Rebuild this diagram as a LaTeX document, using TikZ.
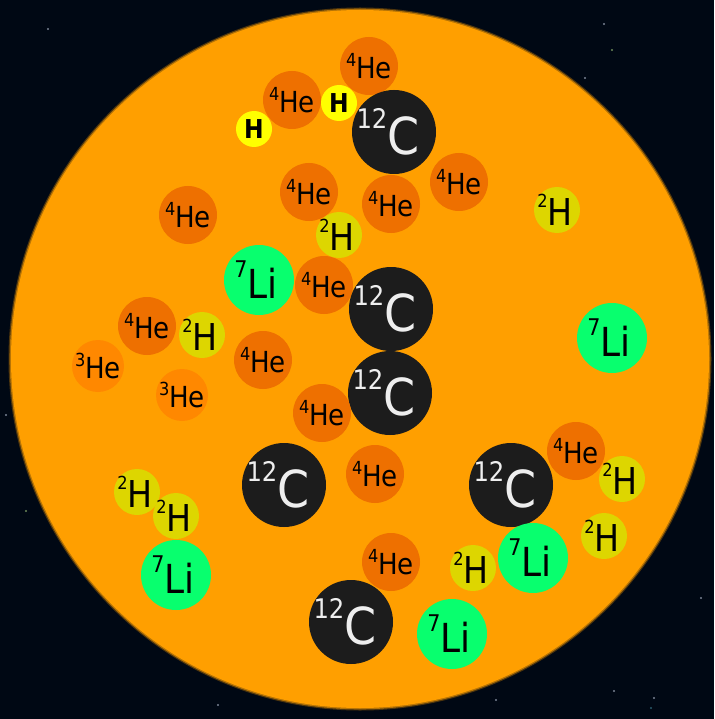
\documentclass[tikz,border=0pt]{standalone}
\usepackage{fontspec}
\setmainfont{DejaVu Sans Condensed}
\definecolor{space}{HTML}{000814}
\definecolor{sun}{HTML}{FF9F00}
\definecolor{hefour}{HTML}{EE7000}
\definecolor{hethree}{HTML}{FF8800}
\definecolor{hyd}{HTML}{FFFF00}
\definecolor{deut}{HTML}{DDD600}
\definecolor{lith}{HTML}{08FF6E}
\definecolor{carb}{HTML}{1C1C1C}
\definecolor{carbtxt}{HTML}{EEEEEE}
\definecolor{stargrey}{HTML}{7A8494}
\definecolor{stargreen}{HTML}{6E8A5A}
\definecolor{starblue}{HTML}{2A5A6A}
\newcommand\isoHe[1]{\raisebox{12.5pt}{\fontsize{18}{18}\selectfont #1}\fontsize{29}{29}\selectfont He}
\newcommand\isoD{\raisebox{18pt}{\fontsize{18}{18}\selectfont 2}\fontsize{37}{37}\selectfont H}
\newcommand\isoH{\fontsize{26}{26}\selectfont\bfseries H}
\newcommand\isoLi{\raisebox{21pt}{\fontsize{23}{23}\selectfont 7}\fontsize{40}{40}\selectfont Li}
\newcommand\isoC{\raisebox{26pt}{\fontsize{27}{27}\selectfont 12}\fontsize{51}{51}\selectfont C}
\tikzset{
  atom/.style={circle, inner sep=0pt, draw=none},
  hefourA/.style={atom, minimum size=58pt, fill=hefour},
  hethreeA/.style={atom, minimum size=52pt, fill=hethree},
  hydA/.style={atom, minimum size=36pt, fill=hyd},
  deutA/.style={atom, minimum size=46pt, fill=deut},
  lithA/.style={atom, minimum size=70pt, fill=lith},
  carbA/.style={atom, minimum size=84pt, fill=carb},
  lbl/.style={inner sep=0pt, text=black},
  dlbl/.style={lbl, xshift=-2pt},
  lilbl/.style={lbl, xshift=-3pt},
  clbl/.style={inner sep=0pt, text=carbtxt, xshift=-6pt},
  star/.style={fill=stargrey},
}
\begin{document}
\begin{tikzpicture}[x=1pt,y=-1pt]
\useasboundingbox (0,0) rectangle (714,719);
\fill[space] (0,0) rectangle (714,719);
% stars
\fill[star] (48,29) circle (1.2);
\fill[star] (604,24) circle (1.1);
\fill[stargreen] (612,50) circle (1.1);
\fill[star] (585,78) circle (1.1);
\fill[star] (6,415) circle (1.2);
\fill[stargreen] (26,511) circle (1.1);
\fill[star] (701,598) circle (1.2);
\fill[star] (614,691) circle (1.2);
\fill[star] (654,698) circle (1.2);
\fill[starblue] (651,708) circle (1.1);
\fill[star] (218,705) circle (1.1);
\fill[star] (496,700) circle (1.1);
% sun
\fill[sun, opacity=0.3] (360,359) circle (351.5);
\fill[sun, opacity=0.6] (360,359) circle (350.3);
\fill[sun] (360,359) circle (349);
% atoms
\node[hefourA] (a1) at (369,66) {};   \node[lbl] (t1) at (a1) {\isoHe{4}};
\node[hefourA] (a2) at (292,100) {};  \node[lbl] (t2) at (a2) {\isoHe{4}};
\node[hydA] (a3) at (339,103) {};     \node[lbl] (t3) at (a3) {\isoH};
\node[hydA] (a4) at (254,129) {};     \node[lbl] (t4) at (a4) {\isoH};
\node[carbA] (a5) at (394,132) {};    \node[clbl] (t5) at (a5) {\isoC};
\node[hefourA] (a6) at (459,182) {};  \node[lbl] (t6) at (a6) {\isoHe{4}};
\node[hefourA] (a7) at (309,192) {};  \node[lbl] (t7) at (a7) {\isoHe{4}};
\node[hefourA] (a8) at (391,204) {};  \node[lbl] (t8) at (a8) {\isoHe{4}};
\node[hefourA] (a9) at (188,215) {};  \node[lbl] (t9) at (a9) {\isoHe{4}};
\node[deutA] (a10) at (339,235) {};   \node[dlbl] (t10) at (a10) {\isoD};
\node[deutA] (a11) at (557,210) {};   \node[dlbl] (t11) at (a11) {\isoD};
\node[lithA] (a12) at (259,280) {};   \node[lilbl] (t12) at (a12) {\isoLi};
\node[hefourA] (a13) at (324,285) {}; \node[lbl] (t13) at (a13) {\isoHe{4}};
\node[carbA] (a14) at (391,309) {};   \node[clbl] (t14) at (a14) {\isoC};
\node[lithA] (a15) at (612,338) {};   \node[lilbl] (t15) at (a15) {\isoLi};
\node[hefourA] (a16) at (147,326) {}; \node[lbl] (t16) at (a16) {\isoHe{4}};
\node[deutA] (a17) at (202,335) {};   \node[dlbl] (t17) at (a17) {\isoD};
\node[hethreeA] (a18) at (98,366) {}; \node[lbl] (t18) at (a18) {\isoHe{3}};
\node[hethreeA] (a19) at (182,395) {};\node[lbl] (t19) at (a19) {\isoHe{3}};
\node[hefourA] (a20) at (263,360) {}; \node[lbl] (t20) at (a20) {\isoHe{4}};
\node[carbA] (a21) at (390,393) {};   \node[clbl] (t21) at (a21) {\isoC};
\node[hefourA] (a22) at (322,413) {}; \node[lbl] (t22) at (a22) {\isoHe{4}};
\node[hefourA] (a23) at (375,474) {}; \node[lbl] (t23) at (a23) {\isoHe{4}};
\node[carbA] (a24) at (284,485) {};   \node[clbl] (t24) at (a24) {\isoC};
\node[hefourA] (a26) at (576,451) {}; \node[lbl] (t26) at (a26) {\isoHe{4}};
\node[carbA] (a25) at (511,485) {};   \node[clbl] (t25) at (a25) {\isoC};
\node[deutA] (a27) at (622,479) {};   \node[dlbl] (t27) at (a27) {\isoD};
\node[deutA] (a28) at (604,536) {};   \node[dlbl] (t28) at (a28) {\isoD};
\node[lithA] (a29) at (533,558) {};   \node[lilbl] (t29) at (a29) {\isoLi};
\node[deutA] (a30) at (473,568) {};   \node[dlbl] (t30) at (a30) {\isoD};
\node[deutA] (a31) at (137,492) {};   \node[dlbl] (t31) at (a31) {\isoD};
\node[deutA] (a32) at (176,516) {};   \node[dlbl] (t32) at (a32) {\isoD};
\node[lithA] (a33) at (176,575) {};   \node[lilbl] (t33) at (a33) {\isoLi};
\node[hefourA] (a34) at (391,562) {}; \node[lbl] (t34) at (a34) {\isoHe{4}};
\node[carbA] (a35) at (351,622) {};   \node[clbl] (t35) at (a35) {\isoC};
\node[lithA] (a36) at (452,634) {};   \node[lilbl] (t36) at (a36) {\isoLi};
\end{tikzpicture}
\end{document}
